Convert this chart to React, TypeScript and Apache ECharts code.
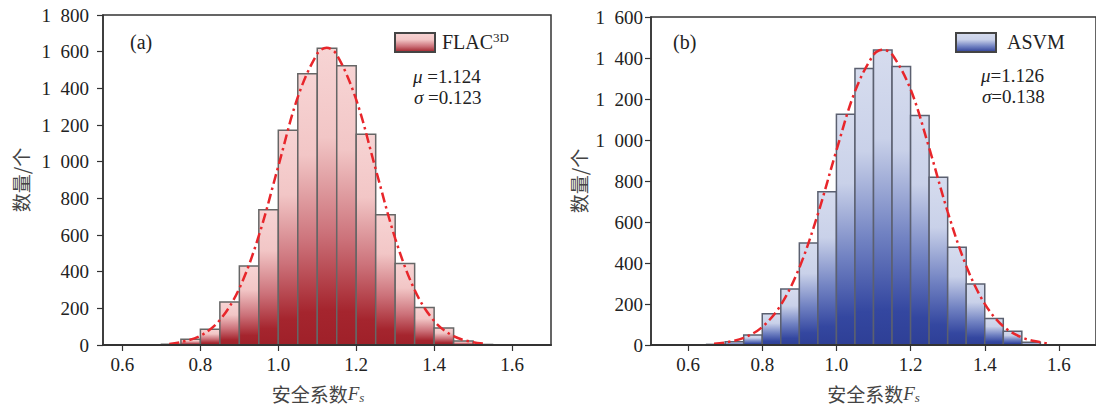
import React, { useEffect, useRef } from "react";
import * as echarts from "echarts";

// ---- data ----
const binWidth = 0.05;

const binStartsA = [0.6, 0.65, 0.7, 0.75, 0.8, 0.85, 0.9, 0.95, 1.0, 1.05, 1.1, 1.15, 1.2, 1.25, 1.3, 1.35, 1.4, 1.45, 1.5, 1.55, 1.6];
const countsA = [0, 1, 4, 32, 86, 234, 431, 738, 1171, 1480, 1618, 1523, 1150, 711, 445, 205, 93, 22, 3, 1, 0];

const binStartsB = [0.65, 0.7, 0.75, 0.8, 0.85, 0.9, 0.95, 1.0, 1.05, 1.1, 1.15, 1.2, 1.25, 1.3, 1.35, 1.4, 1.45, 1.5];
const countsB = [3, 16, 49, 152, 273, 498, 748, 1126, 1349, 1439, 1359, 1120, 818, 477, 298, 129, 67, 13];

const fitXA = [0.72, 0.75, 0.8, 0.85, 0.9, 0.95, 1.0, 1.05, 1.1, 1.124, 1.15, 1.2, 1.25, 1.3, 1.35, 1.4, 1.45, 1.5, 1.53];
const fitYA = [6, 16, 50, 136, 309, 596, 975, 1352, 1589, 1622, 1584, 1338, 959, 582, 300, 131, 48, 15, 7];

const fitXB = [0.67, 0.7, 0.75, 0.8, 0.85, 0.9, 0.95, 1.0, 1.05, 1.1, 1.126, 1.15, 1.2, 1.25, 1.3, 1.35, 1.4, 1.45, 1.5, 1.55, 1.57];
const fitYB = [6, 12, 35, 88, 195, 377, 639, 949, 1237, 1415, 1440, 1418, 1247, 962, 650, 386, 201, 91, 37, 13, 8];

const xTicks = [0.6, 0.8, 1.0, 1.2, 1.4, 1.6];
const panelLabels = ["(a)", "(b)"];
const seriesNames = ["FLAC3D", "ASVM"];
const statsA = { mu: "1.124", sigma: "0.123" };
const statsB = { mu: "1.126", sigma: "0.138" };

const SERIF = "'Liberation Serif', 'Times New Roman', 'Noto Sans CJK SC', serif";
const TXT = "#222";

function barGradient(stops: [number, string][]) {
  return new echarts.graphic.LinearGradient(
    0, 0, 0, 1,
    stops.map(([offset, color]) => ({ offset, color }))
  );
}

const redStops: [number, string][] = [
  [0, "#f7d4d4"], [0.3, "#f2c6c6"], [0.62, "#cc727a"], [0.88, "#a5252e"], [1, "#9f2029"],
];
const blueStops: [number, string][] = [
  [0, "#d6dcee"], [0.3, "#c9d1e9"], [0.62, "#7182c2"], [0.88, "#3447a0"], [1, "#2e3f96"],
];

function fmtThousands(v: number) {
  const s = String(Math.round(v));
  if (s.length <= 3) return s;
  return s.slice(0, s.length - 3) + "\u2002" + s.slice(s.length - 3);
}

function makeHist(name: string, idx: number, starts: number[], counts: number[], stops: [number, string][], stroke: string) {
  return {
    type: "custom",
    name,
    xAxisIndex: idx,
    yAxisIndex: idx,
    z: 2,
    data: starts.map((s, i) => [s, counts[i]]),
    encode: { x: 0, y: 1 },
    renderItem: (_p: any, api: any) => {
      const x0 = api.value(0);
      const y = api.value(1);
      const a = api.coord([x0, 0]);
      const b = api.coord([x0 + binWidth, y]);
      return {
        type: "rect",
        shape: { x: a[0], y: b[1], width: b[0] - a[0], height: a[1] - b[1] },
        style: { fill: barGradient(stops), stroke, lineWidth: 1.5 },
      };
    },
  };
}

function makeFit(idx: number, xs: number[], ys: number[]) {
  return {
    type: "line",
    xAxisIndex: idx,
    yAxisIndex: idx,
    z: 4,
    smooth: 0.35,
    symbol: "none",
    silent: true,
    data: xs.map((x, i) => [x, ys[i]]),
    lineStyle: { color: "#e8262b", width: 2.5, type: [10, 4, 2.5, 4] },
  };
}

function xAxisOf(idx: number, min: number, max: number, nameRightPad: number) {
  return {
    type: "value",
    gridIndex: idx,
    min,
    max,
    z: 5,
    axisLine: { show: true, lineStyle: { color: "#333", width: 2 } },
    axisTick: { show: true, inside: false, length: 6, customValues: xTicks, lineStyle: { color: "#333", width: 1.2 } },
    axisLabel: {
      customValues: xTicks,
      margin: 10,
      fontSize: 19,
      fontFamily: SERIF,
      color: TXT,
      formatter: (v: number) => v.toFixed(1),
    },
    splitLine: { show: false },
    name: "{z|安全系数}{f|F}{s|s}",
    nameLocation: "middle",
    nameGap: 37,
    nameTextStyle: {
      color: "#444",
      rich: {
        z: { fontSize: 19, fontFamily: "'Noto Sans CJK SC', sans-serif", lineHeight: 22, color: "#444" },
        f: { fontSize: 19, fontFamily: SERIF, fontStyle: "italic", lineHeight: 22, color: "#444" },
        s: { fontSize: 13, fontFamily: SERIF, fontStyle: "italic", lineHeight: 11, verticalAlign: "bottom", color: "#444", padding: [0, nameRightPad, 0, 0] },
      },
    },
  };
}

function yAxisOf(idx: number, max: number, margin: number, nameGap: number) {
  return {
    type: "value",
    gridIndex: idx,
    min: 0,
    max,
    interval: 200,
    axisLine: { show: true, lineStyle: { color: "#333", width: 1.5 } },
    axisTick: { show: true, inside: false, length: 6, lineStyle: { color: "#333", width: 1.2 } },
    axisLabel: { margin, fontSize: 19, fontFamily: SERIF, color: TXT, formatter: (v: number) => fmtThousands(v) },
    splitLine: { show: false },
    name: "数量/个",
    nameLocation: "middle",
    nameGap,
    nameTextStyle: { fontSize: 19, fontFamily: "'Noto Sans CJK SC', sans-serif", color: "#444" },
  };
}

function legendGraphic(x: number, y: number, stops: [number, string][], textRich: string, rich: any, textX: number) {
  return [
    {
      type: "rect",
      left: x,
      top: y,
      shape: { x: 0, y: 0, width: 40, height: 19 },
      style: {
        fill: barGradient([[0, stops[0][1]], [0.35, stops[1][1]], [0.7, stops[2][1]], [1, stops[4][1]]]),
        stroke: "#444",
        lineWidth: 2,
      },
      z: 10,
    },
    {
      type: "text",
      x: textX,
      y: y + 10,
      z: 10,
      style: { text: textRich, rich, verticalAlign: "middle", fill: TXT, font: `20px ${SERIF}` },
    },
  ];
}

function statsGraphic(x: number, y1: number, y2: number, s: { mu: string; sigma: string }, gap: string) {
  const rich = {
    i: { fontSize: 19, fontFamily: SERIF, fontStyle: "italic", fill: TXT },
    n: { fontSize: 19, fontFamily: SERIF, fill: TXT },
  };
  return [
    { type: "text", x, y: y1, z: 10, style: { text: `{i|μ}{n|${gap}=${s.mu}}`, rich, verticalAlign: "middle" } },
    { type: "text", x: x + 1, y: y2, z: 10, style: { text: `{i|σ}{n|${gap}=${s.sigma}}`, rich, verticalAlign: "middle" } },
  ];
}

export default function App() {
  const ref = useRef<HTMLDivElement>(null);

  useEffect(() => {
    document.body.style.margin = "0";
    if (!ref.current) return;
    const chart = echarts.init(ref.current, undefined, { renderer: "svg" });

    const legRichA = {
      m: { fontSize: 20, fontFamily: SERIF, lineHeight: 22, fill: TXT },
      s: { fontSize: 13, fontFamily: SERIF, lineHeight: 17, verticalAlign: "top", fill: TXT },
    };
    const legRichB = {
      m: { fontSize: 20, fontFamily: SERIF, lineHeight: 22, fill: TXT },
    };

    const option: any = {
      animation: false,
      backgroundColor: "#fff",
      textStyle: { fontFamily: SERIF },
      grid: [
        { left: 103, top: 15, width: 448, height: 334, show: true, borderColor: "#333", borderWidth: 1.5, backgroundColor: "transparent" },
        { left: 651, top: 17, width: 448, height: 334, show: true, borderColor: "#333", borderWidth: 1.5, backgroundColor: "transparent" },
      ],
      xAxis: [xAxisOf(0, 0.55, 1.7, 18), xAxisOf(1, 0.5, 1.7, 0)],
      yAxis: [yAxisOf(0, 1800, 14, 73), yAxisOf(1, 1600, 8, 63)],
      series: [
        makeHist(seriesNames[0], 0, binStartsA, countsA, redStops, "#666"),
        makeFit(0, fitXA, fitYA),
        makeHist(seriesNames[1], 1, binStartsB, countsB, blueStops, "#5b6070"),
        makeFit(1, fitXB, fitYB),
      ],
      graphic: [
        { type: "text", x: 130, y: 42, z: 10, style: { text: panelLabels[0], font: `20px ${SERIF}`, fill: TXT, verticalAlign: "middle" } },
        { type: "text", x: 673, y: 42, z: 10, style: { text: panelLabels[1], font: `20px ${SERIF}`, fill: TXT, verticalAlign: "middle" } },
        ...legendGraphic(394, 32, redStops, "{m|FLAC}{s|3D}", legRichA, 442),
        ...legendGraphic(955, 32, blueStops, "{m|ASVM}", legRichB, 1007),
        ...statsGraphic(413, 76, 97, statsA, " "),
        ...statsGraphic(981, 75, 96, statsB, ""),
      ],
    };

    chart.setOption(option);
    return () => chart.dispose();
  }, []);

  return <div ref={ref} style={{ width: 1096, height: 409 }} />;
}
